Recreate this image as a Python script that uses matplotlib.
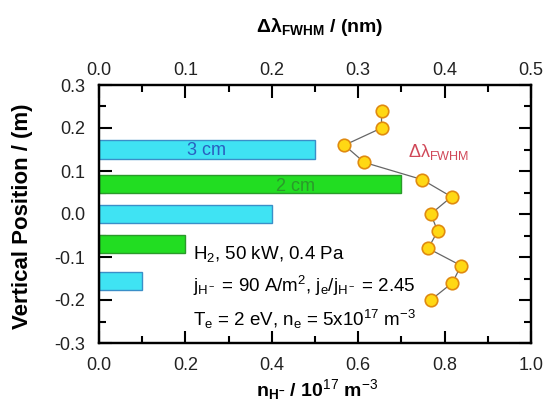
import numpy as np
import matplotlib
matplotlib.use('Agg')
import matplotlib.pyplot as plt
from matplotlib.ticker import MultipleLocator, FormatStrFormatter

plt.rcParams['font.family'] = ['Liberation Sans', 'DejaVu Sans']
plt.rcParams['mathtext.fontset'] = 'custom'
plt.rcParams['mathtext.rm'] = 'Liberation Sans'
plt.rcParams['mathtext.it'] = 'Liberation Sans:italic'
plt.rcParams['mathtext.bf'] = 'Liberation Sans:bold'
plt.rcParams['axes.unicode_minus'] = False

# negative ion density bars (bottom axis)
bar_pos = [0.15, 0.07, 0.0, -0.07, -0.155]
bar_n = [0.5, 0.7, 0.4, 0.2, 0.1]
bar_kind = ['3 cm', '2 cm', '3 cm', '2 cm', '3 cm']

# line width profile (top axis)
fwhm_pos = [0.24, 0.20, 0.16, 0.12, 0.08, 0.04, 0.0, -0.04, -0.08, -0.12, -0.16, -0.20]
fwhm = [0.327, 0.327, 0.284, 0.307, 0.374, 0.408, 0.384, 0.392, 0.381, 0.419, 0.409, 0.384]

fill = {'3 cm': '#3fe3f3', '2 cm': '#22dd22'}
edge = {'3 cm': '#3a8fc8', '2 cm': '#2a9a2a'}

fig = plt.figure(figsize=(5.47, 4.05), dpi=100)
ax = fig.add_axes([99 / 547, 1 - 343 / 405, 432 / 547, 258 / 405])

ax.barh(bar_pos, bar_n, height=0.042,
        color=[fill[k] for k in bar_kind],
        edgecolor=[edge[k] for k in bar_kind], linewidth=1.0, zorder=2)

ax.set_xlim(0, 1.0)
ax.set_ylim(-0.3, 0.3)
ax.xaxis.set_major_locator(MultipleLocator(0.2))
ax.xaxis.set_minor_locator(MultipleLocator(0.1))
ax.yaxis.set_major_locator(MultipleLocator(0.1))
ax.yaxis.set_minor_locator(MultipleLocator(0.05))
ax.xaxis.set_major_formatter(FormatStrFormatter('%.1f'))
ax.yaxis.set_major_formatter(FormatStrFormatter('%.1f'))
ax.tick_params(which='both', direction='in', right=True, width=1.5,
               labelsize=13, labelcolor='#222222')
ax.tick_params(which='major', length=9, pad=10)
ax.tick_params(which='minor', length=5)

ax2 = ax.twiny()
ax2.plot(fwhm, fwhm_pos, '-', color='#666666', lw=0.9, zorder=3)
ax2.plot(fwhm, fwhm_pos, 'o', ms=9, mfc='#ffd814', mec='#e08a10', mew=1.2, zorder=4)
ax2.set_xlim(0, 0.5)
ax2.xaxis.set_major_locator(MultipleLocator(0.1))
ax2.xaxis.set_minor_locator(MultipleLocator(0.05))
ax2.xaxis.set_major_formatter(FormatStrFormatter('%.1f'))
ax2.tick_params(which='both', direction='in', width=1.5, labelsize=13,
                labelcolor='#222222')
ax2.tick_params(which='major', length=9, pad=4)
ax2.tick_params(which='minor', length=5)

for a in (ax, ax2):
    for s in a.spines.values():
        s.set_linewidth(1.6)

ax.text(0.248, 0.147, '3 cm', color='#2a5fc0', fontsize=13, ha='center', va='center', zorder=5)
ax.text(0.456, 0.063, '2 cm', color='#2a9a2a', fontsize=13, ha='center', va='center', zorder=5)
ax.text(0.715, 0.145, r'Δλ$_{\rm FWHM}$', color='#d04858', fontsize=13,
        ha='left', va='center', zorder=5)

ax.text(0.218, -0.092, r'H$_2$, 50 kW, 0.4 Pa', fontsize=13.5, ha='left', va='center')
ax.text(0.218, -0.168, r'j$_{\rm H^-}$ = 90 A/m$^2$, j$_{\rm e}$/j$_{\rm H^-}$ = 2.45',
        fontsize=13.5, ha='left', va='center')
ax.text(0.218, -0.246, r'T$_{\rm e}$ = 2 eV, n$_{\rm e}$ = 5x10$^{17}$ m$^{-3}$',
        fontsize=13.5, ha='left', va='center')

fig.text(23 / 547, 1 - 216 / 405, 'Vertical Position / (m)', rotation=90,
         fontsize=16, fontweight='bold', ha='center', va='center')
fig.text(317 / 547, 1 - 390 / 405,
         r'$\mathbf{n}_{\mathbf{H}^{\mathbf{-}}}$ / 10$^{17}$ m$^{-3}$',
         fontsize=14, fontweight='bold', ha='center', va='center')
fig.text(320 / 547, 1 - 27 / 405,
         r'Δλ$_{\mathbf{FWHM}}$ / (nm)',
         fontsize=14, fontweight='bold', ha='center', va='center')

fig.savefig('out.png', dpi=100)
